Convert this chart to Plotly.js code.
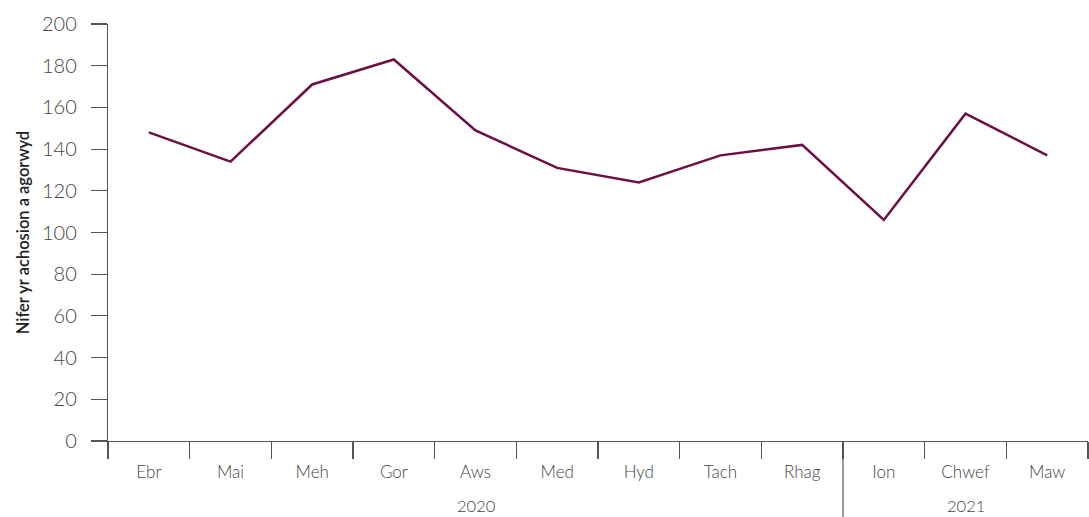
<!DOCTYPE html>
<html>
<head>
<meta charset="utf-8">
<script src="https://cdn.plot.ly/plotly-3.0.1.min.js"></script>
<style>html,body{margin:0;padding:0;background:#fff;}#chart{width:1089px;height:517px;}</style>
</head>
<body>
<div id="chart"></div>
<script>
const years = ['2020','2020','2020','2020','2020','2020','2020','2020','2020','2021','2021','2021'];
const months = ['Ebr','Mai','Meh','Gor','Aws','Med','Hyd','Tach','Rhag','Ion','Chwef','Maw'];
const cases = [148, 134, 171, 183, 149, 131, 124, 137, 142, 106, 157, 137];
const yTicks = [0, 20, 40, 60, 80, 100, 120, 140, 160, 180, 200];
const yTitle = 'Nifer yr achosion a agorwyd';

// group the months by year
const groups = [];
years.forEach((y, i) => {
  const g = groups[groups.length - 1];
  if (g && g.year === y) g.end = i; else groups.push({year: y, start: i, end: i});
});

const annotations = groups.map(g => ({
  x: (g.start + g.end) / 2,
  xref: 'x',
  y: 0,
  yref: 'paper',
  yshift: -65,
  yanchor: 'middle',
  text: g.year,
  showarrow: false,
  font: {size: 16.5, color: '#444444', family: 'Lato, sans-serif', weight: 300}
}));

const shapes = groups.slice(1).map(g => ({
  type: 'line',
  xref: 'x',
  yref: 'paper',
  x0: g.start - 0.5,
  x1: g.start - 0.5,
  y0: 0,
  y1: -0.2,
  line: {color: '#555555', width: 1.2}
}));

const trace = {
  type: 'scatter',
  mode: 'lines',
  x: months,
  y: cases,
  line: {color: '#6b0f45', width: 2.5},
  hoverinfo: 'skip'
};

const layout = {
  width: 1089,
  height: 517,
  margin: {l: 108, r: 1, t: 24, b: 76},
  paper_bgcolor: '#ffffff',
  plot_bgcolor: '#ffffff',
  showlegend: false,
  font: {family: 'Lato, sans-serif', color: '#444444'},
  xaxis: {
    type: 'category',
    range: [-0.5, months.length - 0.5],
    tickson: 'boundaries',
    showline: true,
    linecolor: '#555555',
    linewidth: 1.2,
    ticks: 'outside',
    ticklen: 17,
    tickcolor: '#555555',
    tickwidth: 1.2,
    ticklabelstandoff: 15,
    showgrid: false,
    zeroline: false,
    tickfont: {size: 17, color: '#444444', family: 'Lato, sans-serif', weight: 300}
  },
  yaxis: {
    range: [0, 200],
    tickvals: yTicks,
    ticktext: yTicks.map(String),
    showline: true,
    linecolor: '#555555',
    linewidth: 1.2,
    ticks: 'outside',
    ticklen: 16,
    tickcolor: '#555555',
    tickwidth: 1.2,
    ticklabelstandoff: 10,
    showgrid: false,
    zeroline: false,
    tickfont: {size: 20, color: '#444444', family: 'Lato, sans-serif', weight: 300},
    title: {text: yTitle, font: {size: 16.5, color: '#222222', family: 'Lato, sans-serif', weight: 600}, standoff: 8}
  },
  annotations: annotations,
  shapes: shapes
};

Plotly.newPlot('chart', [trace], layout, {displayModeBar: false, staticPlot: true});
</script>
</body>
</html>
